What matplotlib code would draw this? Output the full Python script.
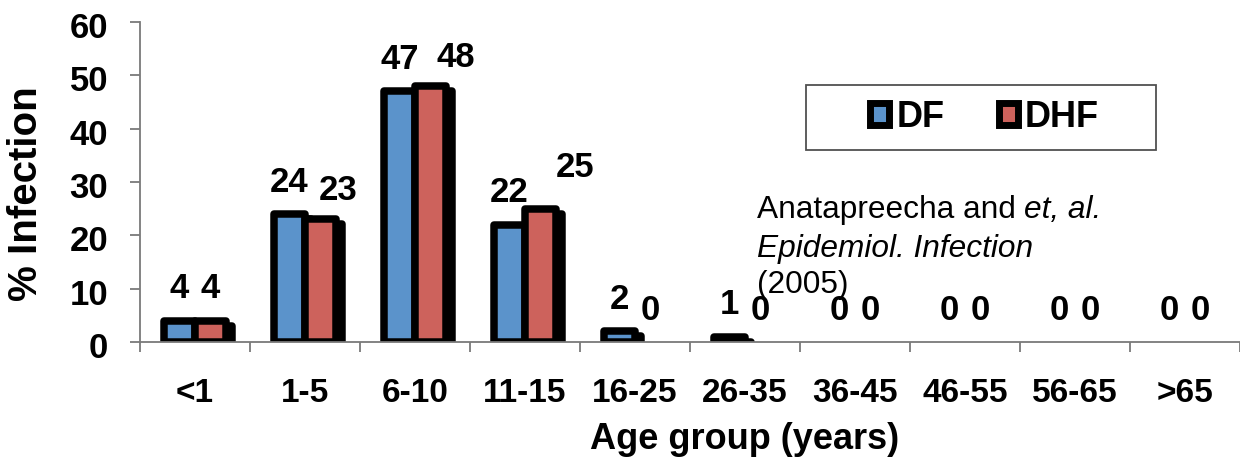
import matplotlib
matplotlib.use("Agg")
import matplotlib.pyplot as plt
from matplotlib import patheffects as pe
from matplotlib.patches import Patch, Rectangle
from matplotlib.transforms import ScaledTranslation
import numpy as np

# Age-group infection percentages (dengue fever vs dengue haemorrhagic fever)
age_groups = ["<1", "1-5", "6-10", "11-15", "16-25", "26-35",
              "36-45", "46-55", "56-65", ">65"]
df_pct = [4, 24, 47, 22, 2, 1, 0, 0, 0, 0]
dhf_pct = [4, 23, 48, 25, 0, 0, 0, 0, 0, 0]
series_names = ["DF", "DHF"]
y_ticks = [0, 10, 20, 30, 40, 50, 60]

# Hand-placed shifts (points) for value labels that would otherwise collide
label_nudge = {
    ("DHF", "1-5"): (13, -2),
    ("DHF", "6-10"): (18, -2),
    ("DHF", "11-15"): (25, 7),
}

BLUE = "#5B93CB"
RED = "#CD625C"
AXIS_GREY = "#7A7A7A"
EDGE_LW = 5.4          # points
SHADOW = (4.0, -3.6)   # points
LABEL_RISE = 16        # points above the bar value

plt.rcParams["font.family"] = ["Liberation Sans", "DejaVu Sans"]

fig = plt.figure(figsize=(12.4, 4.62), dpi=100)
W, H = 1240, 462
ax = fig.add_axes([140 / W, 120 / H, 1100 / W, 320 / H])

x = np.arange(len(age_groups))
bw = 0.282

shadow_fx = [
    pe.Stroke(offset=SHADOW, foreground="black"),
    pe.SimplePatchShadow(offset=SHADOW, shadow_rgbFace="black", alpha=1.0),
    pe.Normal(),
]

series = ((series_names[0], df_pct, BLUE, -bw / 2),
          (series_names[1], dhf_pct, RED, bw / 2))
for name, vals, color, shift in series:
    lws = [EDGE_LW if v > 0 else 0 for v in vals]
    bars = ax.bar(x + shift, vals, width=bw, color=color, edgecolor="black",
                  linewidth=lws, joinstyle="round", zorder=2)
    for rect, v, grp in zip(bars, vals, age_groups):
        if v > 0:
            rect.set_path_effects(shadow_fx)
        dx, dy = label_nudge.get((name, grp), (0, 0))
        ax.annotate(f"{v}", xy=(rect.get_x() + rect.get_width() / 2, v),
                    xytext=(dx, LABEL_RISE + dy), textcoords="offset points",
                    ha="center", va="baseline", fontsize=25,
                    fontweight="bold", zorder=4)

ax.set_xlim(-0.5, len(age_groups) - 0.5)
ax.set_ylim(0, 60)

ax.set_yticks(y_ticks)
ax.set_yticklabels([str(t) for t in y_ticks], fontsize=25, fontweight="bold")
ax.set_xticks(x)
ax.set_xticklabels(age_groups, fontsize=24, fontweight="bold")
ax.set_xticks(np.arange(-0.5, len(age_groups), 1.0), minor=True)

ax.tick_params(axis="x", which="major", length=0, pad=26)
ax.tick_params(axis="x", which="minor", length=7.5, width=1.3,
               color=AXIS_GREY, direction="out")
ax.tick_params(axis="y", which="major", length=7, width=1.3,
               color=AXIS_GREY, direction="out", pad=16)
drop = ScaledTranslation(0, -3 / 100, fig.dpi_scale_trans)
for lab in ax.get_yticklabels():
    lab.set_transform(lab.get_transform() + drop)

for side in ("top", "right"):
    ax.spines[side].set_visible(False)
for side in ("left", "bottom"):
    ax.spines[side].set_color(AXIS_GREY)
    ax.spines[side].set_linewidth(1.3)
ax.spines["bottom"].set_zorder(3)

# Axis titles
fig.text(745 / W, 1 - 449 / H, "Age group (years)", ha="center",
         va="baseline", fontsize=26, fontweight="bold")
fig.text(26 / W, 1 - 194 / H, "% Infection", rotation=90, ha="center",
         va="center", fontsize=29, fontweight="bold")

# Legend with a separate square-cornered frame
handles = [Patch(facecolor=BLUE, edgecolor="black", linewidth=5, joinstyle="round"),
           Patch(facecolor=RED, edgecolor="black", linewidth=5, joinstyle="round")]
leg = ax.legend(handles, series_names, ncol=2, frameon=False, loc="center",
                bbox_to_anchor=(0.7677, 0.703),
                prop={"size": 26, "weight": "bold"},
                handlelength=0.53, handleheight=0.55, handletextpad=0.2,
                columnspacing=1.5, borderpad=0.2)
ax.add_patch(Rectangle(((806 - 140) / 1100, (342 - 150) / 320), 350 / 1100,
                       65 / 320, transform=ax.transAxes, facecolor="none",
                       edgecolor="#505050", linewidth=1.3, zorder=5,
                       clip_on=False))

# Citation
cite_x = (757 - 140) / 1100
t1 = ax.text(cite_x, (342 - 218) / 320, "Anatapreecha and", transform=ax.transAxes,
             fontsize=22.8, va="baseline", ha="left", zorder=6)
ax.annotate("et, al.", xy=(1, 0), xycoords=t1, xytext=(6, 0),
            textcoords="offset points", fontsize=22.8, style="italic",
            va="bottom", ha="left", zorder=6)
ax.text(cite_x, (342 - 257) / 320, "Epidemiol. Infection", transform=ax.transAxes,
        fontsize=22.8, style="italic", va="baseline", ha="left", zorder=6)
ax.text(cite_x, (342 - 293) / 320, "(2005)", transform=ax.transAxes,
        fontsize=22.8, va="baseline", ha="left", zorder=6)

fig.savefig("out.png", dpi=100)
